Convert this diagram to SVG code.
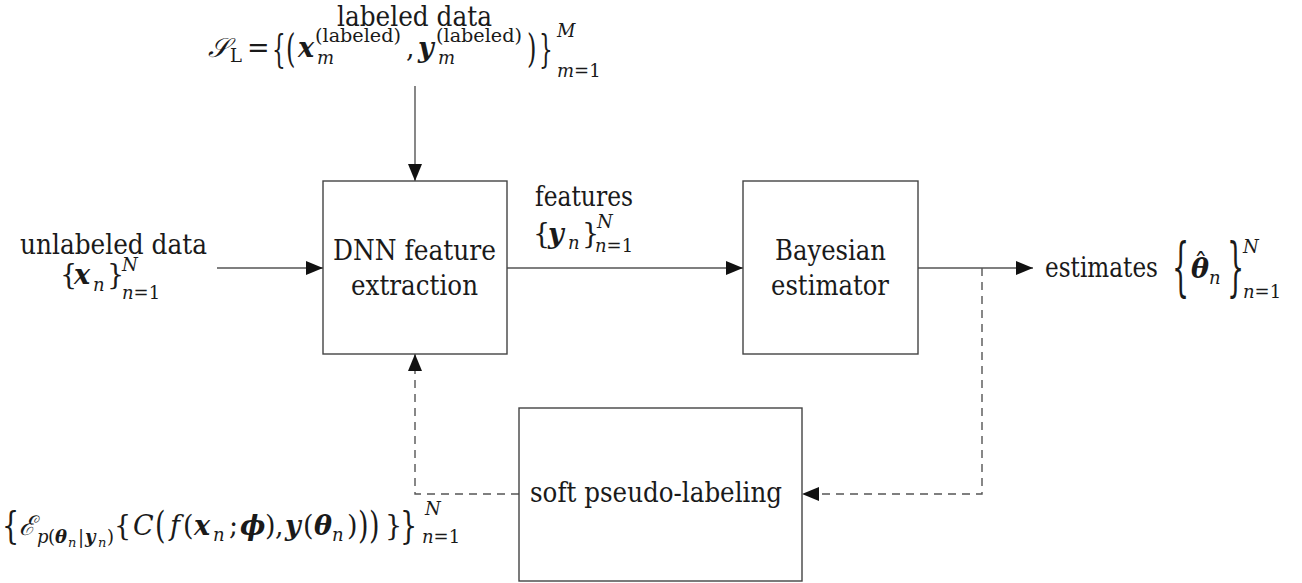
<svg xmlns="http://www.w3.org/2000/svg" width="1302" height="583" viewBox="0 0 1302 583" font-family="'DejaVu Serif', serif">
  <defs>
    <marker id="ah" markerUnits="userSpaceOnUse" markerWidth="17" markerHeight="14" refX="17" refY="7" orient="auto">
      <path d="M0,0 L17,7 L0,14 Z" fill="#111"/>
    </marker>
  </defs>
  <style>
    .box { fill: #fff; stroke: #444; stroke-width: 1.4; }
    .ln { fill: none; stroke: #555; stroke-width: 1.4; }
    .dash { fill: none; stroke: #555; stroke-width: 1.4; stroke-dasharray: 8 6; }
    text { font-family: 'DejaVu Serif', serif; }
    .m { font-size: 27px; fill: #1a1a1a; }
    .b { font-weight: bold; font-style: italic; }
    .i { font-style: italic; }
    .s { font-size: 18px; }
    .ss { font-size: 13px; }
  </style>

  <!-- connectors -->
  <g id="connectors">
    <line class="ln" x1="415" y1="86" x2="415" y2="181" marker-end="url(#ah)"/>
    <line class="ln" x1="217" y1="268" x2="323" y2="268" marker-end="url(#ah)"/>
    <line class="ln" x1="507" y1="268" x2="743" y2="268" marker-end="url(#ah)"/>
    <line class="ln" x1="918" y1="268" x2="1033" y2="268" marker-end="url(#ah)"/>
    <path class="dash" d="M982,268 V494 H802" marker-end="url(#ah)"/>
    <path class="dash" d="M519,494 H415 V354" marker-end="url(#ah)"/>
  </g>

  <!-- DNN feature extraction -->
  <g id="dnn">
    <rect class="box" x="323" y="181" width="184" height="173"/>
    <text class="m" x="333" y="260" textLength="163" lengthAdjust="spacingAndGlyphs">DNN feature</text>
    <text class="m" x="351" y="295" textLength="127" lengthAdjust="spacingAndGlyphs">extraction</text>
  </g>

  <!-- Bayesian estimator -->
  <g id="bayes">
    <rect class="box" x="743" y="181" width="175" height="173"/>
    <text class="m" x="775" y="260" textLength="111" lengthAdjust="spacingAndGlyphs">Bayesian</text>
    <text class="m" x="771" y="295" textLength="118" lengthAdjust="spacingAndGlyphs">estimator</text>
  </g>

  <!-- soft pseudo-labeling -->
  <g id="pseudo">
    <rect class="box" x="519" y="408" width="283" height="173"/>
    <text class="m" x="530" y="502" textLength="252" lengthAdjust="spacingAndGlyphs">soft pseudo-labeling</text>
  </g>

  <!-- labeled data input -->
  <g id="labeled">
    <text class="m" x="337" y="26" textLength="155" lengthAdjust="spacingAndGlyphs">labeled data</text>
    <text class="m">
      <tspan x="208" y="57" class="i">𝒮</tspan>
      <tspan x="230" y="62" class="s">L</tspan>
      <tspan x="247" y="57">=</tspan>
      <tspan x="298" y="57" class="b">x</tspan>
      <tspan x="317" y="64" class="s i">m</tspan>
      <tspan x="406" y="57">,</tspan>
      <tspan x="418" y="57" class="b">y</tspan>
      <tspan x="438" y="64" class="s i">m</tspan>
      <tspan x="557" y="37" class="s i">M</tspan>
      <tspan x="557" y="77" class="s i">m</tspan><tspan class="s">=1</tspan>
    </text>
    <text class="m s" x="315" y="42" textLength="86" lengthAdjust="spacingAndGlyphs">(labeled)</text>
    <text class="m s" x="436" y="42" textLength="86" lengthAdjust="spacingAndGlyphs">(labeled)</text>
    <text class="m" transform="translate(272,62) scale(0.8,1.46)">{</text>
    <text class="m" transform="translate(286,62) scale(0.9,1.46)">(</text>
    <text class="m" transform="translate(527,62) scale(0.9,1.46)">)</text>
    <text class="m" transform="translate(539,62) scale(0.8,1.46)">}</text>
  </g>

  <!-- unlabeled data input -->
  <g id="unlabeled">
    <text class="m" x="20" y="254" textLength="187" lengthAdjust="spacingAndGlyphs">unlabeled data</text>
    <text class="m">
      <tspan x="60" y="284">{</tspan>
      <tspan x="74" y="284" class="b">x</tspan>
      <tspan x="93" y="291" class="s i">n</tspan>
      <tspan x="107" y="284">}</tspan>
      <tspan x="122" y="271" class="s i">N</tspan>
      <tspan x="122" y="299" class="s i">n</tspan><tspan class="s">=1</tspan>
    </text>
  </g>

  <!-- features label -->
  <g id="features">
    <text class="m" x="535" y="206" textLength="98" lengthAdjust="spacingAndGlyphs">features</text>
    <text class="m">
      <tspan x="533" y="243">{</tspan>
      <tspan x="548" y="243" class="b">y</tspan>
      <tspan x="568" y="249" class="s i">n</tspan>
      <tspan x="582" y="243">}</tspan>
      <tspan x="597" y="228" class="s i">N</tspan>
      <tspan x="595" y="252" class="s i">n</tspan><tspan class="s">=1</tspan>
    </text>
  </g>

  <!-- estimates output -->
  <g id="estimates">
    <text class="m" x="1045" y="277" textLength="113" lengthAdjust="spacingAndGlyphs">estimates</text>
    <text class="m" transform="translate(1172,289) scale(1,2.37)">{</text>
    <text class="m">
      <tspan x="1191" y="278" class="b">θ</tspan>
      <tspan x="1209" y="284" class="s i">n</tspan>
      <tspan x="1243" y="253" class="s i">N</tspan>
      <tspan x="1243" y="298" class="s i">n</tspan><tspan class="s">=1</tspan>
    </text>
    <text class="m" x="1194" y="273">ˆ</text>
    <text class="m" transform="translate(1227,289) scale(1,2.37)">}</text>
  </g>

  <!-- pseudo-label loss term -->
  <g id="loss">
    <text class="m" transform="translate(2,538) scale(1,1.35)">{</text>
    <text class="m">
      <tspan x="19" y="535" class="i">ℰ</tspan>
      <tspan x="37" y="543" class="s i">p</tspan>
      <tspan x="48" y="543" class="s">(</tspan>
      <tspan x="55" y="543" class="s b">θ</tspan>
      <tspan x="68" y="547" class="ss i">n</tspan>
      <tspan x="78" y="543" class="s">|</tspan>
      <tspan x="85" y="543" class="s b">y</tspan>
      <tspan x="98" y="547" class="ss i">n</tspan>
      <tspan x="107" y="543" class="s">)</tspan>
      <tspan x="114" y="535">{</tspan>
      <tspan x="133" y="535" class="i">C</tspan>
      <tspan x="170" y="535" class="i">f</tspan>
      <tspan x="183" y="535">(</tspan>
      <tspan x="194" y="535" class="b">x</tspan>
      <tspan x="213" y="541" class="s i">n</tspan>
      <tspan x="229" y="535">;</tspan>
      <tspan x="240" y="535" class="b">ϕ</tspan>
      <tspan x="265" y="535">)</tspan>
      <tspan x="275" y="535">,</tspan>
      <tspan x="285" y="535" class="b">y</tspan>
      <tspan x="303" y="535">(</tspan>
      <tspan x="314" y="535" class="b">θ</tspan>
      <tspan x="332" y="541" class="s i">n</tspan>
      <tspan x="347" y="535">)</tspan>
      <tspan x="385" y="535">}</tspan>
      <tspan x="425" y="515" class="s i">N</tspan>
      <tspan x="422" y="543" class="s i">n</tspan><tspan class="s">=1</tspan>
    </text>
    <text class="m" transform="translate(155,538) scale(1,1.35)">(</text>
    <text class="m" transform="translate(358,538) scale(1,1.35)">)</text>
    <text class="m" transform="translate(369,538) scale(1,1.35)">)</text>
    <text class="m" transform="translate(400,538) scale(1,1.35)">}</text>
  </g>
</svg>
